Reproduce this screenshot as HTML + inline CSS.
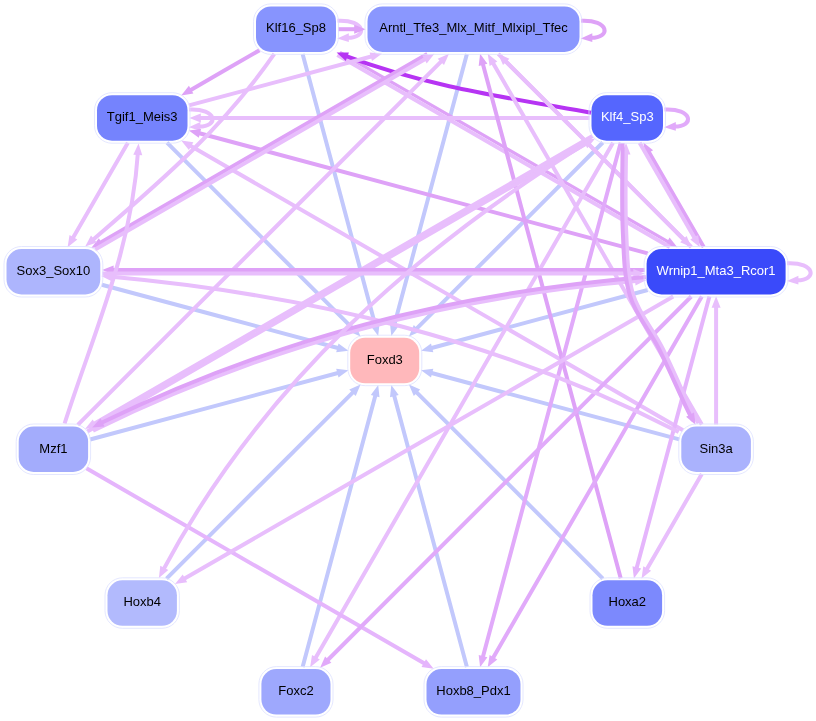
<!DOCTYPE html>
<html><head><meta charset="utf-8"><style>
html,body{margin:0;padding:0;background:#fff;width:816px;height:721px;overflow:hidden}
svg{display:block;will-change:transform}
text{font-family:"Liberation Sans",sans-serif;font-size:13px}
</style></head><body>
<svg width="816" height="721" viewBox="0 0 816 721">
<g>
<path d="M337.5,20.8 C366.0,19.4 368.0,38.2 347.0,37.8" stroke="#e8befc" stroke-width="4.0" fill="none"/>
<path d="M337.2,38.4 L348.8,33.3 L348.8,41.9Z" fill="#e8befc"/>
<path d="M581.0,20.8 C609.5,19.4 611.5,38.2 590.5,37.8" stroke="#dea2f7" stroke-width="4.0" fill="none"/>
<path d="M580.7,38.4 L592.3,33.3 L592.3,41.9Z" fill="#dea2f7"/>
<path d="M189.0,109.6 C217.5,108.2 219.5,127.0 198.5,126.6" stroke="#e8befc" stroke-width="4.0" fill="none"/>
<path d="M188.7,127.2 L200.3,122.1 L200.3,130.7Z" fill="#e8befc"/>
<path d="M664.5,109.6 C693.0,108.2 695.0,127.0 674.0,126.6" stroke="#e1aafa" stroke-width="4.0" fill="none"/>
<path d="M664.2,127.2 L675.8,122.1 L675.8,130.7Z" fill="#e1aafa"/>
<path d="M787.1,263.3 C815.6,261.9 817.6,280.7 796.6,280.3" stroke="#e8befc" stroke-width="4.0" fill="none"/>
<path d="M786.8,280.9 L798.4,275.8 L798.4,284.4Z" fill="#e8befc"/>
<path d="M466.9,53.9 C441.7,147.9 418.6,234.2 393.4,328.2" stroke="#c2c8fc" stroke-width="4.0" fill="none"/>
<path d="M391.3,335.9 L390.0,323.7 L398.7,326.0Z" fill="#c2c8fc"/>
<path d="M602.8,142.5 C538.1,207.1 479.2,266.0 414.6,330.7" stroke="#c2c8fc" stroke-width="4.0" fill="none"/>
<path d="M408.9,336.4 L413.8,325.1 L420.2,331.4Z" fill="#c2c8fc"/>
<path d="M647.7,290.0 C572.2,310.3 504.4,328.4 428.8,348.7" stroke="#c2c8fc" stroke-width="4.0" fill="none"/>
<path d="M421.0,350.8 L431.0,343.5 L433.3,352.2Z" fill="#c2c8fc"/>
<path d="M679.3,439.4 C593.2,416.4 514.9,395.4 428.8,372.3" stroke="#c2c8fc" stroke-width="4.0" fill="none"/>
<path d="M421.0,370.2 L433.3,368.8 L431.0,377.5Z" fill="#c2c8fc"/>
<path d="M602.9,578.7 C538.3,514.0 479.3,455.0 414.6,390.3" stroke="#c2c8fc" stroke-width="4.0" fill="none"/>
<path d="M408.9,384.6 L420.2,389.6 L413.8,395.9Z" fill="#c2c8fc"/>
<path d="M466.9,667.1 C441.7,573.1 418.6,486.8 393.4,392.8" stroke="#c2c8fc" stroke-width="4.0" fill="none"/>
<path d="M391.3,385.1 L398.7,395.0 L390.0,397.3Z" fill="#c2c8fc"/>
<path d="M302.6,667.1 C327.8,573.1 350.9,486.8 376.1,392.8" stroke="#c2c8fc" stroke-width="4.0" fill="none"/>
<path d="M378.2,385.1 L379.5,397.3 L370.8,395.0Z" fill="#c2c8fc"/>
<path d="M166.5,578.7 C231.2,514.0 290.2,455.0 354.9,390.3" stroke="#c2c8fc" stroke-width="4.0" fill="none"/>
<path d="M360.6,384.6 L355.7,395.9 L349.3,389.6Z" fill="#c2c8fc"/>
<path d="M90.1,439.5 C176.2,416.4 254.6,395.4 340.7,372.3" stroke="#c2c8fc" stroke-width="4.0" fill="none"/>
<path d="M348.5,370.2 L338.5,377.5 L336.2,368.8Z" fill="#c2c8fc"/>
<path d="M101.8,284.7 C184.0,306.7 258.5,326.7 340.7,348.7" stroke="#c2c8fc" stroke-width="4.0" fill="none"/>
<path d="M348.5,350.8 L336.2,352.2 L338.5,343.5Z" fill="#c2c8fc"/>
<path d="M167.0,142.7 C231.5,207.3 290.4,266.1 354.9,330.7" stroke="#c2c8fc" stroke-width="4.0" fill="none"/>
<path d="M360.6,336.4 L349.3,331.4 L355.7,325.1Z" fill="#c2c8fc"/>
<path d="M302.6,53.9 C327.8,147.9 350.9,234.2 376.1,328.2" stroke="#c2c8fc" stroke-width="4.0" fill="none"/>
<path d="M378.2,335.9 L370.8,326.0 L379.5,323.7Z" fill="#c2c8fc"/>
<path d="M339.9,52.4 C452.4,117.3 557.9,178.2 670.4,243.2" stroke="#dea2f7" stroke-width="3.2" fill="none"/>
<path d="M677.3,247.2 L665.1,245.3 L669.6,237.5Z" fill="#dea2f7"/>
<path d="M669.8,247.0 C559.0,183.0 448.2,119.0 337.4,55.0" stroke="#e8befc" stroke-width="4.0" fill="none"/>
<path d="M591.0,112.7 C505.3,97.4 426.0,86.3 344.1,55.4" stroke="#b634f3" stroke-width="4" fill="none"/>
<path d="M338.0,29.2 C347.2,29.2 356.5,29.2 357.7,29.2" stroke="#dea2f7" stroke-width="4.0" fill="none"/>
<path d="M365.7,29.2 L354.2,33.7 L354.2,24.7Z" fill="#dea2f7"/>
<path d="M259.6,50.2 C233.5,65.3 214.3,76.3 188.2,91.4" stroke="#dea2f7" stroke-width="4.0" fill="none"/>
<path d="M181.2,95.4 L188.9,85.8 L193.4,93.6Z" fill="#dea2f7"/>
<path d="M189.0,105.4 C253.3,88.2 309.8,73.0 374.1,55.8" stroke="#e8befc" stroke-width="4.0" fill="none"/>
<path d="M381.9,53.7 L372.0,61.1 L369.6,52.4Z" fill="#e8befc"/>
<path d="M589.5,118.0 C456.1,118.0 330.7,118.0 197.3,118.0" stroke="#e8befc" stroke-width="4.0" fill="none"/>
<path d="M189.3,118.0 L200.8,113.5 L200.8,122.5Z" fill="#e8befc"/>
<path d="M647.7,253.4 C494.8,212.4 349.6,173.5 196.6,132.5" stroke="#dea2f7" stroke-width="4.0" fill="none"/>
<path d="M188.8,130.4 L201.1,129.1 L198.8,137.8Z" fill="#dea2f7"/>
<path d="M683.0,430.2 C515.8,333.6 355.5,241.1 188.2,144.5" stroke="#e8befc" stroke-width="4.0" fill="none"/>
<path d="M181.2,140.5 L193.4,142.3 L188.9,150.1Z" fill="#e8befc"/>
<path d="M127.9,142.7 C107.8,177.5 91.7,205.4 71.6,240.2" stroke="#e8befc" stroke-width="4.0" fill="none"/>
<path d="M67.6,247.2 L69.5,235.0 L77.3,239.5Z" fill="#e8befc"/>
<path d="M427.3,53.9 C315.2,118.6 210.2,179.3 98.2,243.9" stroke="#dea2f7" stroke-width="4.0" fill="none"/>
<path d="M91.2,247.9 L98.9,238.3 L103.4,246.1Z" fill="#dea2f7"/>
<path d="M95.1,249.6 C208.2,184.3 314.3,123.1 427.4,57.8" stroke="#e8befc" stroke-width="4.0" fill="none"/>
<path d="M434.4,53.7 L426.7,63.4 L422.2,55.6Z" fill="#e8befc"/>
<path d="M77.8,424.9 C201.5,301.2 319.5,183.2 443.3,59.4" stroke="#e8befc" stroke-width="4.0" fill="none"/>
<path d="M449.0,53.7 L444.0,65.1 L437.7,58.7Z" fill="#e8befc"/>
<path d="M620.7,578.3 C573.8,403.4 529.0,236.4 482.2,61.5" stroke="#dea2f7" stroke-width="4.0" fill="none"/>
<path d="M480.1,53.7 L487.4,63.7 L478.7,66.0Z" fill="#dea2f7"/>
<path d="M701.8,424.5 C630.4,300.9 563.1,184.3 491.7,60.7" stroke="#e8befc" stroke-width="4.0" fill="none"/>
<path d="M487.7,53.7 L497.3,61.4 L489.6,65.9Z" fill="#e8befc"/>
<path d="M691.3,247.0 C626.9,182.6 568.2,123.8 503.8,59.4" stroke="#e8befc" stroke-width="4.0" fill="none"/>
<path d="M498.1,53.7 L509.4,58.7 L503.0,65.1Z" fill="#e8befc"/>
<path d="M498.3,53.9 C562.7,118.3 621.4,177.1 685.8,241.5" stroke="#e8befc" stroke-width="4.0" fill="none"/>
<path d="M691.5,247.2 L680.2,242.2 L686.6,235.9Z" fill="#e8befc"/>
<path d="M87.4,431.6 C256.6,333.9 418.9,240.3 588.1,142.6" stroke="#e8befc" stroke-width="4.0" fill="none"/>
<path d="M595.1,138.5 L587.3,148.2 L582.8,140.4Z" fill="#e8befc"/>
<path d="M592.5,136.1 C423.4,233.7 261.2,327.4 92.0,425.0" stroke="#e8befc" stroke-width="4.0" fill="none"/>
<path d="M85.0,429.1 L92.7,419.4 L97.2,427.2Z" fill="#e8befc"/>
<path d="M613.0,142.7 C512.0,317.6 415.1,485.4 314.2,660.3" stroke="#e8befc" stroke-width="4.0" fill="none"/>
<path d="M310.1,667.3 L312.0,655.1 L319.8,659.6Z" fill="#e8befc"/>
<path d="M620.7,142.7 C573.8,317.6 529.0,484.6 482.2,659.5" stroke="#e1aafa" stroke-width="4.0" fill="none"/>
<path d="M480.1,667.3 L478.7,655.0 L487.4,657.3Z" fill="#e1aafa"/>
<path d="M703.7,247.0 C683.6,212.2 667.6,184.3 647.4,149.5" stroke="#dea2f7" stroke-width="4.0" fill="none"/>
<path d="M643.4,142.5 L653.1,150.2 L645.3,154.7Z" fill="#dea2f7"/>
<path d="M639.6,142.7 C659.7,177.5 675.8,205.4 695.9,240.2" stroke="#e8befc" stroke-width="4.0" fill="none"/>
<path d="M699.9,247.2 L690.3,239.5 L698.1,235.0Z" fill="#e8befc"/>
<path d="M644.6,270.0 C463.8,270.0 291.0,270.0 110.2,270.0" stroke="#dea2f7" stroke-width="4.0" fill="none"/>
<path d="M102.1,270.0 L113.6,265.5 L113.6,274.5Z" fill="#dea2f7"/>
<path d="M102.3,273.4 C283.1,273.4 455.9,273.4 636.7,273.4" stroke="#e8befc" stroke-width="4.0" fill="none"/>
<path d="M644.8,273.4 L633.3,277.9 L633.3,268.9Z" fill="#e8befc"/>
<path d="M86.4,468.3 C202.2,535.1 311.0,598.0 426.7,664.8" stroke="#e5b5fc" stroke-width="4.0" fill="none"/>
<path d="M433.7,668.8 L421.5,667.0 L426.0,659.2Z" fill="#e5b5fc"/>
<path d="M716.1,424.5 C716.1,381.8 716.1,347.1 716.1,304.3" stroke="#e8befc" stroke-width="4.0" fill="none"/>
<path d="M716.1,296.3 L720.6,307.8 L711.6,307.8Z" fill="#e8befc"/>
<path d="M701.8,474.0 C681.7,508.8 665.6,536.7 645.5,571.5" stroke="#e8befc" stroke-width="4.0" fill="none"/>
<path d="M641.5,578.5 L643.3,566.3 L651.1,570.8Z" fill="#e8befc"/>
<path d="M709.4,296.5 C684.2,390.5 661.1,476.7 635.9,570.7" stroke="#e5b5fc" stroke-width="4.0" fill="none"/>
<path d="M633.9,578.5 L632.5,566.2 L641.2,568.5Z" fill="#e5b5fc"/>
<path d="M701.8,296.5 C630.4,420.1 563.1,536.7 491.7,660.3" stroke="#e1aafa" stroke-width="4.0" fill="none"/>
<path d="M487.7,667.3 L489.6,655.1 L497.3,659.6Z" fill="#e1aafa"/>
<path d="M691.3,296.5 C567.6,420.2 449.5,538.2 325.8,662.0" stroke="#e1aafa" stroke-width="4.0" fill="none"/>
<path d="M320.1,667.7 L325.1,656.4 L331.4,662.7Z" fill="#e1aafa"/>
<path d="M673.2,296.5 C507.1,392.4 348.0,484.2 182.0,580.1" stroke="#e8befc" stroke-width="4.0" fill="none"/>
<path d="M175.0,584.1 L182.7,574.5 L187.2,582.3Z" fill="#e8befc"/>
<path d="M274.3,53.9 C222.5,128.9 159.8,182.1 91.3,241.2" stroke="#e8befc" stroke-width="4.0" fill="none"/>
<path d="M85.2,246.5 L91.0,235.6 L96.8,242.4Z" fill="#e8befc"/>
<path d="M64.6,423.5 C94.1,331.5 131.9,249.3 138.0,151.5" stroke="#e8befc" stroke-width="4.0" fill="none"/>
<path d="M138.5,143.5 L142.3,155.3 L133.3,154.7Z" fill="#e8befc"/>
<path d="M678.7,432.0 C499.0,339.7 309.5,294.8 109.2,276.6" stroke="#e8befc" stroke-width="4.0" fill="none"/>
<path d="M101.2,275.9 L113.1,272.5 L112.2,281.4Z" fill="#e8befc"/>
<path d="M93.0,430.6 C268.4,345.2 443.7,296.9 638.5,280.8" stroke="#e8befc" stroke-width="4.0" fill="none"/>
<path d="M646.5,280.1 L635.5,285.6 L634.7,276.6Z" fill="#e8befc"/>
<path d="M645.7,276.9 C450.9,292.9 274.8,338.4 99.4,423.8" stroke="#dea2f7" stroke-width="4.0" fill="none"/>
<path d="M92.2,427.4 L100.5,418.3 L104.5,426.4Z" fill="#dea2f7"/>
<path d="M698.5,423.2 C696.9,420.3 695.2,418.4 689.1,405.8 C683.1,393.1 671.4,365.8 662.0,347.2 C652.7,328.7 639.1,314.2 633.1,294.5 C627.1,274.8 627.3,254.2 626.1,228.9 C624.9,203.7 626.0,165.4 626.0,151.0" stroke="#e8befc" stroke-width="4.0" fill="none"/>
<path d="M626.0,143.0 L630.5,154.5 L621.5,154.5Z" fill="#e8befc"/>
<path d="M622.6,143.0 C622.6,157.3 621.5,203.7 622.7,229.1 C623.9,254.5 623.8,275.5 629.9,295.5 C635.9,315.4 649.6,330.1 659.0,348.8 C668.3,367.4 680.0,394.6 686.1,407.2 C692.2,419.9 693.9,421.9 691.7,417.7" stroke="#dea2f7" stroke-width="4.0" fill="none"/>
<path d="M695.5,424.8 L686.1,416.8 L694.0,412.5Z" fill="#dea2f7"/>
<path d="M591.0,140.0 C414.4,249.5 261.2,385.6 162.7,570.9" stroke="#e8befc" stroke-width="4.0" fill="none"/>
<path d="M158.9,578.0 L160.3,565.7 L168.3,570.0Z" fill="#e8befc"/>
<path d="M336.6,52.6 L348.9,52.4 L345.8,60.9Z" fill="#b634f3"/>
</g>
<g>
<rect x="253.5" y="3.9" width="85.0" height="50.5" rx="17.5" ry="17.5" fill="none" stroke="#dde1ff" stroke-width="0.8"/>
<rect x="256.0" y="6.4" width="80.0" height="45.5" rx="15" ry="15" fill="#8794fe"/>
<text x="296.0" y="32.4" fill="#000" text-anchor="middle">Klf16_Sp8</text>
<rect x="365.0" y="3.9" width="217.0" height="50.5" rx="17.5" ry="17.5" fill="none" stroke="#dde1ff" stroke-width="0.8"/>
<rect x="367.5" y="6.4" width="212.0" height="45.5" rx="15" ry="15" fill="#8a97fe"/>
<text x="473.5" y="32.4" fill="#000" text-anchor="middle">Arntl_Tfe3_Mlx_Mitf_Mlxipl_Tfec</text>
<rect x="94.5" y="92.7" width="95.5" height="50.5" rx="17.5" ry="17.5" fill="none" stroke="#dde1ff" stroke-width="0.8"/>
<rect x="97.0" y="95.2" width="90.5" height="45.5" rx="15" ry="15" fill="#7583fd"/>
<text x="142.2" y="121.2" fill="#000" text-anchor="middle">Tgif1_Meis3</text>
<rect x="589.0" y="92.7" width="76.5" height="50.5" rx="17.5" ry="17.5" fill="none" stroke="#dde1ff" stroke-width="0.8"/>
<rect x="591.5" y="95.2" width="71.5" height="45.5" rx="15" ry="15" fill="#5566fe"/>
<text x="627.3" y="121.2" fill="#fff" text-anchor="middle">Klf4_Sp3</text>
<rect x="4.0" y="246.5" width="98.8" height="50.5" rx="17.5" ry="17.5" fill="none" stroke="#dde1ff" stroke-width="0.8"/>
<rect x="6.5" y="249.0" width="93.8" height="45.5" rx="15" ry="15" fill="#adb5fd"/>
<text x="53.4" y="274.9" fill="#000" text-anchor="middle">Sox3_Sox10</text>
<rect x="644.1" y="246.5" width="144.0" height="50.5" rx="17.5" ry="17.5" fill="none" stroke="#dde1ff" stroke-width="0.8"/>
<rect x="646.6" y="249.0" width="139.0" height="45.5" rx="15" ry="15" fill="#3a4afa"/>
<text x="716.1" y="274.9" fill="#fff" text-anchor="middle">Wrnip1_Mta3_Rcor1</text>
<rect x="347.8" y="335.2" width="74.0" height="50.5" rx="17.5" ry="17.5" fill="none" stroke="#dde1ff" stroke-width="0.8"/>
<rect x="350.2" y="337.8" width="69.0" height="45.5" rx="15" ry="15" fill="#ffb8bb"/>
<text x="384.8" y="363.7" fill="#000" text-anchor="middle">Foxd3</text>
<rect x="16.2" y="424.0" width="74.4" height="50.5" rx="17.5" ry="17.5" fill="none" stroke="#dde1ff" stroke-width="0.8"/>
<rect x="18.7" y="426.5" width="69.4" height="45.5" rx="15" ry="15" fill="#a3acfc"/>
<text x="53.4" y="452.5" fill="#000" text-anchor="middle">Mzf1</text>
<rect x="678.8" y="424.0" width="74.6" height="50.5" rx="17.5" ry="17.5" fill="none" stroke="#dde1ff" stroke-width="0.8"/>
<rect x="681.3" y="426.5" width="69.6" height="45.5" rx="15" ry="15" fill="#aab2fd"/>
<text x="716.1" y="452.5" fill="#000" text-anchor="middle">Sin3a</text>
<rect x="105.0" y="577.8" width="74.4" height="50.5" rx="17.5" ry="17.5" fill="none" stroke="#dde1ff" stroke-width="0.8"/>
<rect x="107.5" y="580.3" width="69.4" height="45.5" rx="15" ry="15" fill="#b2bafd"/>
<text x="142.2" y="606.2" fill="#000" text-anchor="middle">Hoxb4</text>
<rect x="590.0" y="577.8" width="74.6" height="50.5" rx="17.5" ry="17.5" fill="none" stroke="#dde1ff" stroke-width="0.8"/>
<rect x="592.5" y="580.3" width="69.6" height="45.5" rx="15" ry="15" fill="#7c89fd"/>
<text x="627.3" y="606.2" fill="#000" text-anchor="middle">Hoxa2</text>
<rect x="258.9" y="666.6" width="74.1" height="50.5" rx="17.5" ry="17.5" fill="none" stroke="#dde1ff" stroke-width="0.8"/>
<rect x="261.4" y="669.1" width="69.1" height="45.5" rx="15" ry="15" fill="#9ea8fd"/>
<text x="296.0" y="695.0" fill="#000" text-anchor="middle">Foxc2</text>
<rect x="424.0" y="666.6" width="99.0" height="50.5" rx="17.5" ry="17.5" fill="none" stroke="#dde1ff" stroke-width="0.8"/>
<rect x="426.5" y="669.1" width="94.0" height="45.5" rx="15" ry="15" fill="#949ffd"/>
<text x="473.5" y="695.0" fill="#000" text-anchor="middle">Hoxb8_Pdx1</text>
</g>
</svg>
</body></html>
